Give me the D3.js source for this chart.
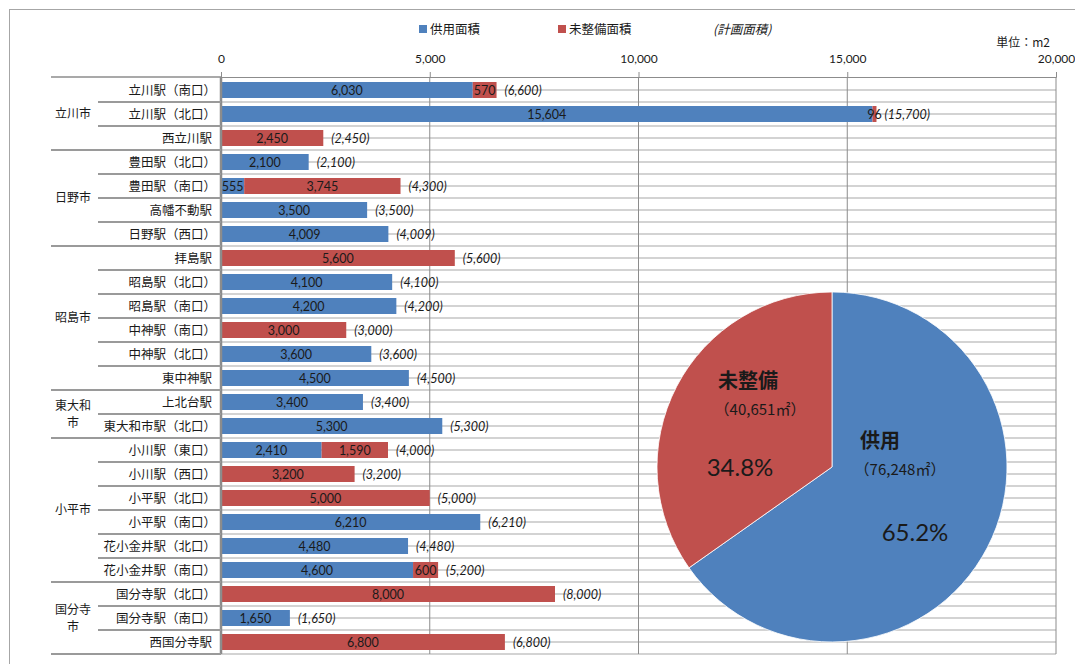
<!DOCTYPE html>
<html>
<head>
<meta charset="utf-8">
<script src="https://cdn.jsdelivr.net/npm/d3@7"></script>
<style>
  body { margin: 0; background: #fff; }
  text { font-family: "Noto Sans CJK JP", sans-serif; fill: #1a1a1a; }
  .num { font-family: Lato, "Noto Sans", sans-serif; }
</style>
</head>
<body>
<div id="chart"></div>
<script>
const width = 1075,
    height = 664,
    margin = { top: 78, bottom: 10, left: 221, right: 18 };

// data
const stations = ["立川駅（南口）", "立川駅（北口）", "西立川駅",
    "豊田駅（北口）", "豊田駅（南口）", "高幡不動駅", "日野駅（西口）",
    "拝島駅", "昭島駅（北口）", "昭島駅（南口）", "中神駅（南口）", "中神駅（北口）", "東中神駅",
    "上北台駅", "東大和市駅（北口）",
    "小川駅（東口）", "小川駅（西口）", "小平駅（北口）", "小平駅（南口）", "花小金井駅（北口）", "花小金井駅（南口）",
    "国分寺駅（北口）", "国分寺駅（南口）", "西国分寺駅"];
const used = [6030, 15604, 0, 2100, 555, 3500, 4009, 0, 4100, 4200, 0, 3600, 4500,
    3400, 5300, 2410, 0, 0, 6210, 4480, 4600, 0, 1650, 0];
const unbuilt = [570, 96, 2450, 0, 3745, 0, 0, 5600, 0, 0, 3000, 0, 0,
    0, 0, 1590, 3200, 5000, 0, 0, 600, 8000, 0, 6800];
const planned = [6600, 15700, 2450, 2100, 4300, 3500, 4009, 5600, 4100, 4200, 3000, 3600, 4500,
    3400, 5300, 4000, 3200, 5000, 6210, 4480, 5200, 8000, 1650, 6800];
const cities = [["立川市"], ["日野市"], ["昭島市"], ["東大和", "市"], ["小平市"], ["国分寺", "市"]];
const cityCounts = [3, 4, 6, 2, 6, 3];
const xTicks = [0, 5000, 10000, 15000, 20000];
const pieNames = ["供用", "未整備"];
const pieValues = [76248, 40651];
const pieAreaLabels = ["（76,248㎡）", "（40,651㎡）"];
const piePercents = ["65.2%", "34.8%"];

const blue = "#4f81bd", red = "#c0504d";
const fmt = d3.format(",");

const svg = d3.select("#chart").append("svg")
    .attr("width", width).attr("height", height);

// outer frame
svg.append("rect").attr("x", 9.5).attr("y", 9.5).attr("width", 1100).attr("height", 700)
    .attr("fill", "none").attr("stroke", "#a6a6a6");

const xScale = d3.scaleLinear().domain([0, 20000]).range([margin.left, 1056]);
const yScale = d3.scaleBand().domain(stations).range([margin.top, 654])
    .paddingInner(1 / 3).paddingOuter(1 / 6);
const step = yScale.step();
const rowTop = d => yScale(d) - (step - yScale.bandwidth()) / 2;

// horizontal grid every half row
const gridYs = [];
stations.forEach(s => { gridYs.push(rowTop(s)); gridYs.push(rowTop(s) + step / 2); });
gridYs.push(rowTop(stations[stations.length - 1]) + step);
svg.append("g").selectAll("line").data(gridYs.slice(1)).join("line")
    .attr("x1", xScale(0)).attr("x2", xScale(20000))
    .attr("y1", d => d).attr("y2", d => d)
    .attr("stroke", "#c4c4c4").attr("stroke-width", 1.6);

// vertical grid
svg.append("g").selectAll("line").data(xTicks.slice(1)).join("line")
    .attr("x1", d => xScale(d)).attr("x2", d => xScale(d))
    .attr("y1", margin.top - 1).attr("y2", gridYs[gridYs.length - 1])
    .attr("stroke", "#8c8c8c").attr("stroke-width", 1);

// top axis
const xAxis = d3.axisTop(xScale).tickValues(xTicks).tickFormat(fmt).tickSize(5).tickPadding(9);
const xAxisGroup = svg.append("g")
    .attr("transform", `translate(0, ${margin.top - 1})`)
    .call(xAxis);
xAxisGroup.select(".domain").attr("stroke", "#8c8c8c");
xAxisGroup.selectAll(".tick line").attr("stroke", "#8c8c8c");
xAxisGroup.selectAll(".tick text").attr("class", "num").style("font-size", "12px").attr("fill", "#1a1a1a");

// bars
const barG = svg.append("g");
stations.forEach((s, i) => {
    const segs = [
        { x0: 0, x1: used[i], v: used[i], c: blue },
        { x0: used[i], x1: used[i] + unbuilt[i], v: unbuilt[i], c: red }
    ].filter(d => d.v > 0);
    segs.forEach(d => {
        barG.append("rect")
            .attr("x", xScale(d.x0)).attr("y", yScale(s))
            .attr("width", xScale(d.x1) - xScale(d.x0)).attr("height", yScale.bandwidth())
            .attr("fill", d.c);
        barG.append("text").attr("class", "num")
            .attr("x", (xScale(d.x0) + xScale(d.x1)) / 2)
            .attr("y", yScale(s) + yScale.bandwidth() / 2)
            .attr("dy", "0.36em").attr("text-anchor", "middle")
            .style("font-size", "12.5px").text(fmt(d.v));
    });
    barG.append("text").attr("class", "num")
        .attr("x", xScale(used[i] + unbuilt[i]) + 8)
        .attr("y", yScale(s) + yScale.bandwidth() / 2)
        .attr("dy", "0.36em").style("font-size", "12.5px").style("font-style", "italic")
        .text(`(${fmt(planned[i])})`);
});

// left axis line
svg.append("line").attr("x1", xScale(0)).attr("x2", xScale(0))
    .attr("y1", margin.top - 1).attr("y2", gridYs[gridYs.length - 1])
    .attr("stroke", "#8c8c8c").attr("stroke-width", 2.5);

// category table at left
const tableG = svg.append("g");
const tableLeft = 51, innerLeft = 98;
tableG.append("line").attr("x1", tableLeft).attr("x2", xScale(0))
    .attr("y1", margin.top - 1).attr("y2", margin.top - 1)
    .attr("stroke", "#8c8c8c").attr("stroke-width", 1.5);
let start = 0;
const cityLine = 17.5;
cities.forEach((c, ci) => {
    const n = cityCounts[ci];
    const rows = stations.slice(start, start + n);
    rows.forEach((s, k) => {
        const yb = rowTop(s) + step;
        tableG.append("line")
            .attr("x1", k === n - 1 ? tableLeft : innerLeft).attr("x2", xScale(0))
            .attr("y1", yb).attr("y2", yb)
            .attr("stroke", "#9a9a9a").attr("stroke-width", 1.8);
    });
    const mid = (rowTop(rows[0]) + rowTop(rows[n - 1]) + step) / 2;
    c.forEach((line, li) => {
        tableG.append("text")
            .attr("x", 73).attr("y", mid + (li - (c.length - 1) / 2) * cityLine)
            .attr("dy", "0.36em").attr("text-anchor", "middle")
            .style("font-size", "12px").text(line);
    });
    start += n;
});
tableG.selectAll(".st").data(stations).join("text")
    .attr("x", d => d.endsWith("）") ? 216 : 212)
    .attr("y", d => yScale(d) + yScale.bandwidth() / 2)
    .attr("dy", "0.36em").attr("text-anchor", "end")
    .style("font-size", "12.5px").text(d => d);

// legend
const legend = svg.append("g").attr("transform", "translate(0, 29)");
[["供用面積", blue, 419], ["未整備面積", red, 558]].forEach(([t, c, x]) => {
    legend.append("rect").attr("x", x).attr("y", -4).attr("width", 8).attr("height", 8).attr("fill", c);
    legend.append("text").attr("x", x + 11).attr("dy", "0.36em").style("font-size", "12.5px").text(t);
});
legend.append("text").attr("x", 713).attr("dy", "0.36em")
    .style("font-size", "12.5px").style("font-style", "italic").text("(計画面積)");

svg.append("text").attr("x", 1050).attr("y", 43).attr("dy", "0.36em").attr("text-anchor", "end")
    .style("font-size", "12px").text("単位：m2");

// pie
const cx = 832, cy = 467, r = 175;
const pie = d3.pie().sort(null).value(d => d)(pieValues);
const arc = d3.arc().innerRadius(0).outerRadius(r);
const pieG = svg.append("g").attr("transform", `translate(${cx}, ${cy})`);
pieG.selectAll("path").data(pie).join("path")
    .attr("d", arc).attr("fill", (d, i) => i === 0 ? blue : red)
    .attr("stroke", "#fff").attr("stroke-width", 0.8);

const pieLabelPos = [
    { name: [880, 441], area: [900, 470], pct: [915, 532] },
    { name: [748, 381], area: [760, 410], pct: [740, 467] }
];
pieNames.forEach((n, i) => {
    const p = pieLabelPos[i];
    svg.append("text").attr("x", p.name[0]).attr("y", p.name[1]).attr("dy", "0.36em")
        .attr("text-anchor", "middle").style("font-size", "20px").style("font-weight", "bold").text(n);
    svg.append("text").attr("x", p.area[0]).attr("y", p.area[1]).attr("dy", "0.36em")
        .attr("text-anchor", "middle").style("font-size", "15px").text(pieAreaLabels[i]);
    svg.append("text").attr("class", "num").attr("x", p.pct[0]).attr("y", p.pct[1]).attr("dy", "0.36em")
        .attr("text-anchor", "middle").style("font-size", "24px").text(piePercents[i]);
});
</script>
</body>
</html>
